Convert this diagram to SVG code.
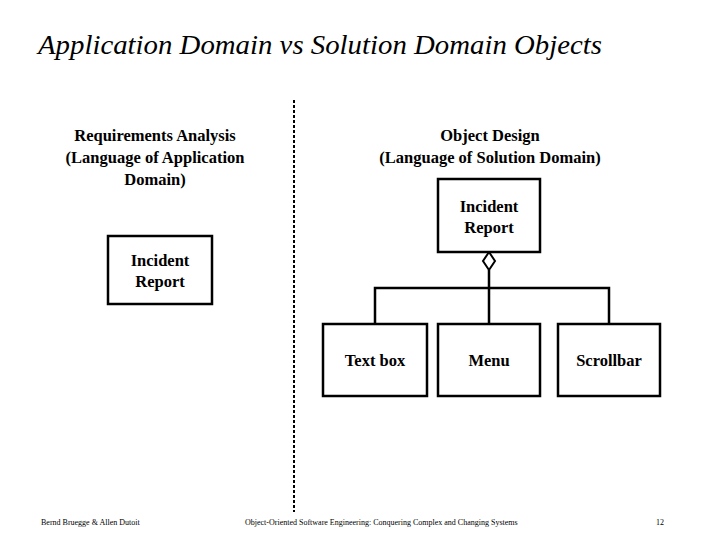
<svg xmlns="http://www.w3.org/2000/svg" width="720" height="540" viewBox="0 0 720 540">
<style>
.b{fill:#fff;stroke:#000;stroke-width:2.5}
.t{font-family:"Liberation Serif",serif;font-size:16.5px;font-weight:bold;text-anchor:middle;fill:#000}
.f{font-family:"Liberation Serif",serif;font-size:8px;fill:#000}
.c{fill:none;stroke:#000;stroke-width:2.5}
</style>
<rect width="720" height="540" fill="#fff"/>
<text x="38" y="54" font-family="Liberation Serif,serif" font-size="27" font-style="italic" textLength="564" lengthAdjust="spacingAndGlyphs">Application Domain vs Solution Domain Objects</text>
<line x1="294" y1="100" x2="294" y2="512" stroke="#000" stroke-width="2" stroke-dasharray="3,2"/>
<text class="t" x="155" y="141">Requirements Analysis</text>
<text class="t" x="155" y="163">(Language of Application</text>
<text class="t" x="155" y="185">Domain)</text>
<text class="t" x="490" y="141">Object Design</text>
<text class="t" x="490" y="163">(Language of Solution Domain)</text>
<g id="connectors">
<path class="c" d="M489 270 V288 M375 324 V288 H609 V324 M489 288 V324"/>
<polygon points="489,252 495,261 489,270 483,261" fill="#fff" stroke="#000" stroke-width="2"/>
</g>
<g id="ir-solution"><rect class="b" x="438" y="179" width="102" height="73"/><text class="t" x="489" y="212">Incident</text><text class="t" x="489" y="233">Report</text></g>
<g id="ir-app"><rect class="b" x="108" y="236" width="104" height="68"/><text class="t" x="160" y="266">Incident</text><text class="t" x="160" y="287">Report</text></g>
<g id="textbox"><rect class="b" x="323" y="324" width="104" height="72"/><text class="t" x="375" y="366">Text box</text></g>
<g id="menu"><rect class="b" x="438" y="324" width="102" height="72"/><text class="t" x="489" y="366">Menu</text></g>
<g id="scrollbar"><rect class="b" x="558" y="324" width="102" height="72"/><text class="t" x="609" y="366">Scrollbar</text></g>
<text class="f" x="41" y="525">Bernd Bruegge &amp; Allen Dutoit</text>
<text class="f" x="245" y="525">Object-Oriented Software Engineering: Conquering Complex and Changing Systems</text>
<text class="f" x="656" y="525">12</text>
</svg>
